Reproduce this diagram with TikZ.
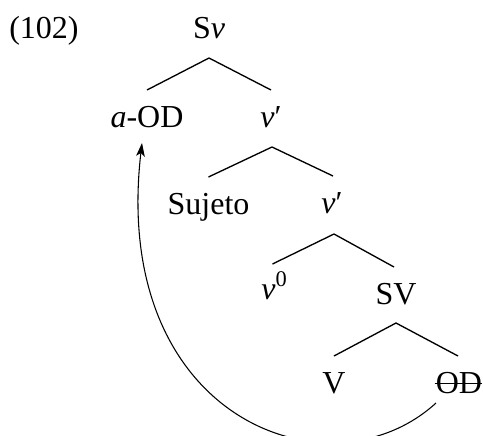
\documentclass[tikz,border=0pt]{standalone}
\usepackage{fontspec}
\setmainfont{Liberation Serif}
\usetikzlibrary{calc,arrows.meta}
\newcommand\treefont{\fontsize{24}{29}\selectfont}
\tikzset{
  lab/.style={anchor=base, inner sep=0pt, font=\treefont},
  edge/.style={line width=1pt},
  move/.style={line width=0.8pt, -{Stealth[length=10pt,width=6.5pt,inset=2.5pt]}}
}
\begin{document}
\begin{tikzpicture}[x=0.75pt,y=-0.75pt]
\path[use as bounding box] (0,0) rectangle (483,436);
\clip (0,0) rectangle (483,436);
% labels
\node[lab, anchor=base west] (num) at (9,38) {(102)};
\node[lab] (sv) at (209,38) {S\textit{v}};
\node[lab] (aod) at (147,127) {\textit{a}-OD};
\node[lab] (vb1) at (271,127) {\textit{v}′};
\node[lab] (suj) at (208.5,214) {Sujeto};
\node[lab] (vb2) at (332,213) {\textit{v}′};
\node[lab] (v0) at (274.5,299) {\textit{v}\textsuperscript{0}};
\node[lab] (svp) at (396,304) {SV};
\node[lab] (v) at (334,393) {V};
\node[lab] (od) at (459,393) {OD};
% strike-through of OD
\draw[line width=1pt] ($(od.base west)+(-1,-9.5)$) -- ($(od.base east)+(0,-9.5)$);
% branches
\draw[edge] ($(aod.base)+(0,-37)$) -- ($(sv.base)+(0,20)$) -- ($(vb1.base)+(0,-37)$);
\draw[edge] ($(suj.base)+(0,-37)$) -- ($(vb1.base)+(1,20)$) -- ($(vb2.base)+(1,-37)$);
\draw[edge] ($(v0.base)+(-2,-35)$) -- ($(vb2.base)+(2,21)$) -- ($(svp.base)+(-2,-37)$);
\draw[edge] ($(v.base)+(0,-37)$) -- ($(svp.base)+(0,19)$) -- ($(od.base)+(-1,-37)$);
% movement arrow
\draw[move] ($(od.base)+(-23,10)$) .. controls (330,500) and (110,420) .. ($(aod.base)+(-5,16)$);
\end{tikzpicture}
\end{document}
